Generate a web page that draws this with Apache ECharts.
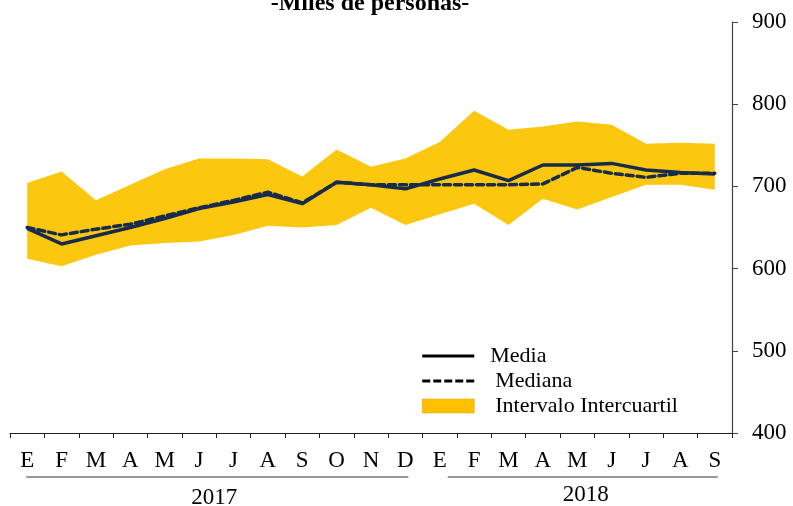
<!DOCTYPE html>
<html>
<head>
<meta charset="utf-8">
<script src="https://cdn.jsdelivr.net/npm/echarts@6/dist/echarts.min.js"></script>
<style>
  html, body { margin: 0; padding: 0; background: #fff; }
  #chart { width: 793px; height: 506px; }
</style>
</head>
<body>
<div id="chart"></div>
<script>
// Monthly categories, January 2017 to September 2018
const months = ['E','F','M','A','M','J','J','A','S','O','N','D',
                'E','F','M','A','M','J','J','A','S'];
// Year groups: label, first month index, last month index
const years = ['2017', '2018'];
const yearStart = [0, 12];
const yearEnd = [11, 20];

// Thousands of people
const media = [649, 630, 640, 650, 661, 673, 681, 690, 679, 705, 702, 697,
               709, 720, 707, 726, 726, 728, 720, 717, 715];
const mediana = [650, 641, 648, 654, 664, 674, 683, 693, 680, 705, 702, 702,
                 702, 702, 702, 703, 723, 716, 711, 716, 716];
const q1 = [612, 603, 617, 628, 631, 633, 641, 652, 650, 653, 674, 653,
            666, 679, 653, 685, 672, 687, 702, 702, 696];
const q3 = [704, 718, 683, 702, 721, 734, 734, 733, 712, 745, 724, 734,
            754, 792, 769, 773, 779, 775, 752, 753, 752];

const yTicks = [400, 500, 600, 700, 800, 900];

const FONT = '"Liberation Serif", "Times New Roman", serif';
const NAVY = '#172B4C';
const GOLD = '#FCC70F';

const chart = echarts.init(document.getElementById('chart'), null, { renderer: 'canvas' });

const bandWidth = q3.map((v, i) => v - q1[i]);

const option = {
  animation: false,
  backgroundColor: '#fff',
  title: {
    text: '-Miles de personas-',
    left: 370,
    textAlign: 'center',
    top: -8,
    padding: 0,
    textStyle: { fontFamily: FONT, fontSize: 24, fontWeight: 'bold', color: '#000' }
  },
  grid: { left: 10, right: 61, top: 22, bottom: 73, containLabel: false },
  legend: {
    left: 422,
    top: 345,
    padding: 0,
    orient: 'vertical',
    itemWidth: 52,
    itemHeight: 14,
    itemGap: 3,
    textStyle: { fontFamily: FONT, fontSize: 22, color: '#000', lineHeight: 22 },
    data: [
      {
        name: 'Media',
        icon: 'path://M0,0M0,14M0,5.5h52v3h-52z',
        itemStyle: { color: '#000' },
        textStyle: { padding: [0, 0, 0, 11] }
      },
      {
        name: 'Mediana',
        icon: 'path://M0,0M0,14M0,5.5h8v3h-8zM11,5.5h8v3h-8zM22,5.5h8v3h-8zM33,5.5h8v3h-8zM44,5.5h8v3h-8z',
        itemStyle: { color: '#000' },
        textStyle: { padding: [0, 0, 0, 16] }
      },
      {
        name: 'Intervalo Intercuartil',
        icon: 'rect',
        itemStyle: { color: '#FFC000', borderColor: '#D9A400', borderWidth: 0.5 },
        textStyle: { padding: [0, 0, 0, 16] }
      }
    ]
  },
  xAxis: {
    type: 'category',
    data: months,
    boundaryGap: true,
    axisLine: { show: true, lineStyle: { color: '#222', width: 1.2 } },
    axisTick: { show: true, inside: false, length: 5, interval: 0, lineStyle: { color: '#222' } },
    axisLabel: { interval: 0, fontFamily: FONT, fontSize: 23, color: '#000', margin: 16 },
    splitLine: { show: false }
  },
  yAxis: {
    type: 'value',
    position: 'right',
    min: yTicks[0],
    max: yTicks[yTicks.length - 1],
    interval: yTicks[1] - yTicks[0],
    axisLine: { show: true, lineStyle: { color: '#444', width: 1.2 } },
    axisTick: { show: true, inside: false, length: 6, lineStyle: { color: '#444' } },
    axisLabel: { fontFamily: FONT, fontSize: 23, color: '#000', margin: 20 },
    splitLine: { show: false }
  },
  series: [
    {
      name: 'q1',
      type: 'line',
      stack: 'iqr',
      data: q1,
      symbol: 'none',
      lineStyle: { width: 0, opacity: 0 },
      areaStyle: { opacity: 0 },
      silent: true,
      z: 1
    },
    {
      name: 'Intervalo Intercuartil',
      type: 'line',
      stack: 'iqr',
      data: bandWidth,
      symbol: 'none',
      color: GOLD,
      lineStyle: { width: 0, opacity: 0 },
      areaStyle: { color: GOLD, opacity: 1 },
      z: 1
    },
    {
      name: 'Mediana',
      type: 'line',
      data: mediana,
      symbol: 'none',
      color: NAVY,
      lineStyle: { color: NAVY, width: 3.5, type: [7, 4], cap: 'round' },
      z: 3
    },
    {
      name: 'Media',
      type: 'line',
      data: media,
      symbol: 'none',
      color: NAVY,
      lineStyle: { color: NAVY, width: 3.5 },
      z: 4
    }
  ]
};

chart.setOption(option);

// Year captions under the month labels, each with a rule spanning its months
const graphics = [];
years.forEach((label, k) => {
  const x0 = chart.convertToPixel({ xAxisIndex: 0 }, yearStart[k]);
  const x1 = chart.convertToPixel({ xAxisIndex: 0 }, yearEnd[k]);
  const ruleStart = k === 0 ? x0 - 1 : x0 + 8;
  const ruleEnd = x1 + 3;
  graphics.push({
    type: 'line',
    shape: { x1: ruleStart, y1: 477, x2: ruleEnd, y2: 477 },
    style: { stroke: '#333', lineWidth: 1.2 },
    silent: true
  });
  graphics.push({
    type: 'text',
    x: (ruleStart + ruleEnd) / 2 - (k === 0 ? 3 : -3),
    y: k === 0 ? 498 : 495,
    style: {
      text: label,
      fontFamily: FONT,
      fontSize: 23,
      fill: '#000',
      align: 'center',
      verticalAlign: 'middle'
    },
    silent: true
  });
});
chart.setOption({ graphic: graphics });
</script>
</body>
</html>
